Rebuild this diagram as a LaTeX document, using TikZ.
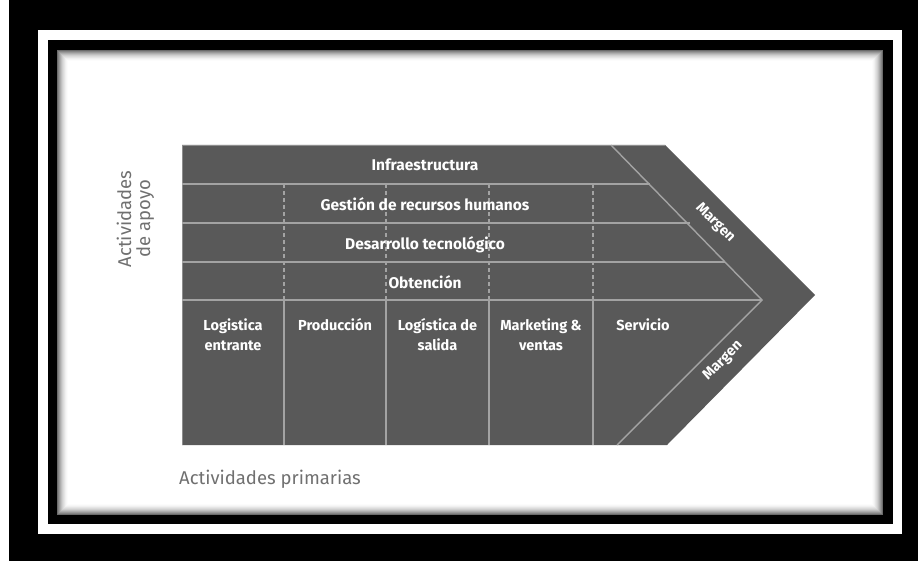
\documentclass[tikz,border=0pt]{standalone}
\usepackage{fontspec}
\setmainfont{Fira Sans}
\definecolor{shapefill}{HTML}{595959}
\definecolor{rule}{HTML}{A3A3A3}
\definecolor{labelgray}{HTML}{707070}
\tikzset{
  suptext/.style={text=white, font=\bfseries\fontsize{15.5}{18}\selectfont, inner sep=0pt, anchor=base},
  primtext/.style={text=white, font=\bfseries\fontsize{14.5}{19.5}\selectfont, align=center, inner sep=0pt, anchor=base},
  margintext/.style={text=white, font=\bfseries\fontsize{14.5}{16}\selectfont, inner sep=0pt},
  sidelabel/.style={text=labelgray, font=\fontsize{18.5}{19}\selectfont, align=center, inner sep=0pt},
  rowline/.style={draw=rule, line width=1.4pt},
  dashline/.style={draw=rule, line width=1.4pt, dash pattern=on 4pt off 3pt},
}
\begin{document}
\begin{tikzpicture}[x=1pt, y=-1pt]
\useasboundingbox (0,0) rectangle (918,561);
% frame
\fill[white] (0,0) rectangle (918,561);
\fill[black] (9,0) rectangle (918,561);
\fill[white] (38,30) rectangle (902,534);
\fill[black] (48,40) rectangle (893,524);
\fill[white] (57,50) rectangle (883,515);
\foreach \i in {0,...,11} {
  \pgfmathtruncatemacro\s{58*(1-\i/12)^2}
  \draw[black!\s, line width=1.05pt] (57.5+\i,50.5+\i) rectangle (882.5-\i,514.5-\i);
}
% coordinates
\coordinate (TL) at (182,145);
\coordinate (TR) at (665,145);
\coordinate (TIP) at (815,295);
\coordinate (BR) at (667,445);
\coordinate (BL) at (182,445);
\coordinate (IT) at (611,145);
\coordinate (ITIP) at (762,300);
\coordinate (IB) at (617,445);
% shape
\fill[shapefill] (TL) -- (TR) -- (TIP) -- (BR) -- (BL) -- cycle;
\draw[rule!70!shapefill, line width=0.8pt] (TL) -- (TR) (BL) -- (TL);
% inner diagonal
\draw[rowline] (IT) -- (ITIP) -- (IB);
% row lines (end on the inner diagonal)
\coordinate (r1l) at (182,184); \coordinate (r1r) at (650,184);
\coordinate (r2l) at (182,223); \coordinate (r2r) at (689.5,223);
\coordinate (r3l) at (182,262); \coordinate (r3r) at (725,262);
\coordinate (r4l) at (182,300);
\draw[rowline] (r1l) -- (r1r);
\draw[rowline] (r2l) -- (r2r);
\draw[rowline] (r3l) -- (r3r);
\draw[rowline] (r4l) -- (ITIP);
% columns
\foreach \x/\n in {284/a,386/b,489/c,593/d} {
  \coordinate (dt\n) at (\x,184);
  \coordinate (dm\n) at (\x,300);
  \coordinate (db\n) at (\x,445);
  \draw[dashline] (dt\n) -- (dm\n);
  \draw[rowline] (dm\n) -- (db\n);
}
% support activity texts
\node[suptext] (infra) at (425,171) {Infraestructura};
\node[suptext] (rrhh) at (425,210.5) {Gestión de recursos humanos};
\node[suptext] (tec) at (425,249.5) {Desarrollo tecnológico};
\node[suptext] (obt) at (425,288) {Obtención};
% primary activity texts (base anchor = last line's baseline)
\node[primtext] (le) at (233,350) {Logistica\\entrante};
\node[primtext] (prod) at (335,330.5) {Producción};
\node[primtext] (ls) at (437.5,350) {Logística de\\salida};
\node[primtext] (mkt) at (541,350) {Marketing \&\\ventas};
\node[primtext] (serv) at (643,330.5) {Servicio};
% margin texts
\node[margintext, rotate=-45] (m1) at (715,223) {Margen};
\node[margintext, rotate=45] (m2) at (723,361) {Margen};
% side labels
\node[sidelabel, rotate=90] (apoyo) at (135.5,219) {Actividades\\de apoyo};
\node[sidelabel, anchor=west] (prim) at (179,479) {Actividades primarias};
\end{tikzpicture}
\end{document}
